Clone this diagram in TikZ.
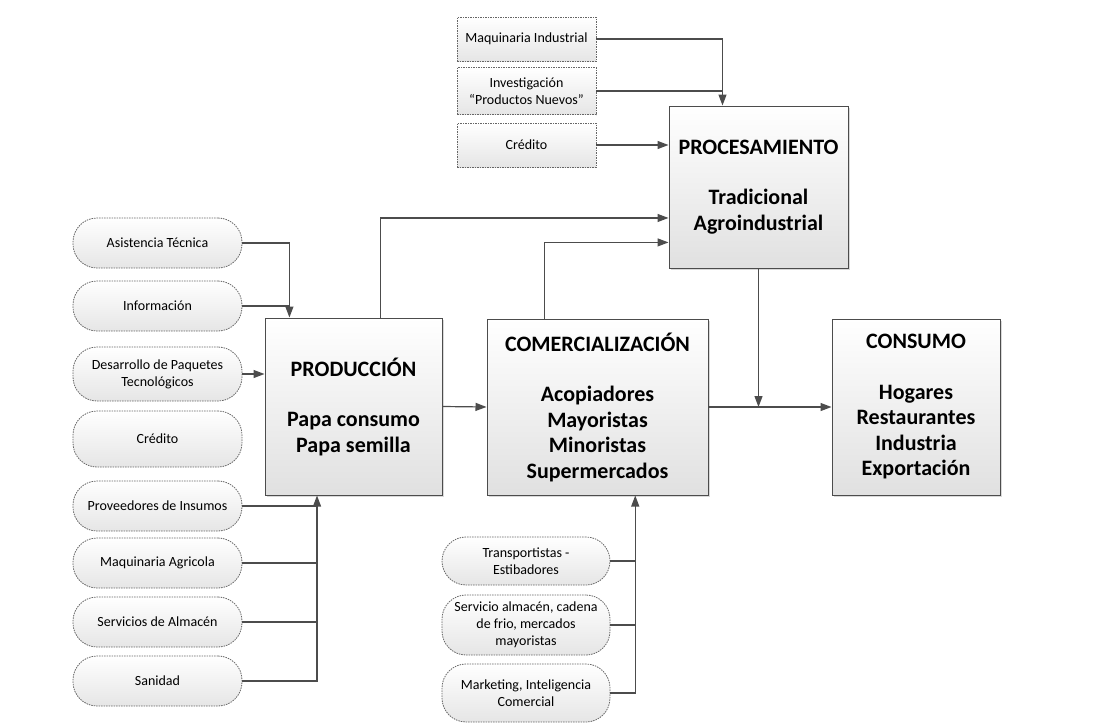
\documentclass[tikz,border=0pt]{standalone}
\usepackage{fontspec}
\setmainfont{Carlito}
\usetikzlibrary{arrows.meta,calc,shadows}

\begin{document}
\begin{tikzpicture}[
        x=1pt, y=-1pt,
        etapa/.style={rectangle,draw=black!70,line width=1pt,top color=white,bottom color=black!12,
            drop shadow={opacity=0.3,shadow xshift=2pt,shadow yshift=-2pt},
            align=center,inner sep=2pt,font=\bfseries\fontsize{22}{25.5}\selectfont},
        apoyo/.style={rectangle,draw=black!60,dash pattern=on 1.5pt off 1pt,line width=0.8pt,
            top color=white,bottom color=black!10,align=center,inner sep=1pt,
            font=\fontsize{14}{17}\selectfont,minimum width=139pt,minimum height=44pt},
        ovalo/.style={apoyo,rounded corners=24pt,minimum width=169pt,minimum height=50pt},
        enlace/.style={draw=black!70,line width=1.2pt},
        flecha/.style={enlace,-{Triangle[length=11pt,width=8pt]}}
    ]
    \useasboundingbox (0,0) rectangle (1097,723);

    \node [etapa,minimum width=179pt,minimum height=162pt] (proc) at (758.5,187) {PROCESAMIENTO\\[25pt]Tradicional\\Agroindustrial};
    \node [etapa,minimum width=177pt,minimum height=177pt] (prod) at (353.5,406.5) {PRODUCCIÓN\\[25pt]Papa consumo\\Papa semilla};
    \node [etapa,minimum width=221pt,minimum height=176pt] (comer) at (597.5,407) {COMERCIALIZACIÓN\\[25pt]Acopiadores\\Mayoristas\\Minoristas\\Supermercados};
    \node [etapa,minimum width=168pt,minimum height=176pt] (cons) at (916,407) {CONSUMO\\[25pt]Hogares\\Restaurantes\\Industria\\Exportación};

    \node [apoyo] (maqind) at (526.5,39) {Maquinaria Industrial};
    \node [apoyo,minimum height=47pt] (inves) at (526.5,91) {Investigación\\“Productos Nuevos”};
    \node [apoyo] (credp) at (526.5,145) {Crédito};

    \node [ovalo] (asis) at (157.5,243) {Asistencia Técnica};
    \node [ovalo] (info) at (157.5,306) {Información};
    \node [ovalo,minimum height=54pt] (desa) at (157.5,374) {Desarrollo de Paquetes\\Tecnológicos};
    \node [ovalo,minimum height=56pt] (credl) at (157.5,439) {Crédito};
    \node [ovalo] (prov) at (157.5,506) {Proveedores de Insumos};
    \node [ovalo] (maqag) at (157.5,563) {Maquinaria Agricola};
    \node [ovalo] (serv) at (157.5,622) {Servicios de Almacén};
    \node [ovalo] (sani) at (157.5,681) {Sanidad};

    \node [ovalo,minimum width=168pt,minimum height=48pt] (trans) at (526,561) {Transportistas -\\Estibadores};
    \node [ovalo,minimum width=168pt,minimum height=60pt] (servalm) at (526,625) {Servicio almacén, cadena\\de frio, mercados\\mayoristas};
    \node [ovalo,minimum width=168pt,minimum height=58pt] (mark) at (526,693) {Marketing, Inteligencia\\Comercial};

    \coordinate (jproc) at ($(proc.north west)!0.3!(proc.north east)$);
    \coordinate (jprod) at ($(prod.north west)!0.14!(prod.north east)$);
    \coordinate (jprodb) at ($(prod.south west)!0.295!(prod.south east)$);
    \coordinate (jcomb) at ($(comer.south west)!0.67!(comer.south east)$);
    \coordinate (sprod) at ($(prod.north west)!0.65!(prod.north east)$);
    \coordinate (scomer) at ($(comer.north west)!0.26!(comer.north east)$);
    \coordinate (eproc1) at ($(proc.north west)!0.69!(proc.south west)$);
    \coordinate (eproc2) at ($(proc.north west)!0.84!(proc.south west)$);

    \draw [flecha] (maqind.east) -| (jproc);
    \draw [enlace] (inves.east) -- (inves.east -| jproc);
    \draw [flecha] (credp.east) -- (credp.east -| proc.west);
    \draw [flecha] (sprod) |- (eproc1);
    \draw [flecha] (scomer) |- (eproc2);

    \draw [flecha] (asis.east) -| (jprod);
    \draw [enlace] (info.east) -- (info.east -| jprod);
    \draw [flecha] (desa.east) -- (desa.east -| prod.west);
    \draw [flecha] (sani.east) -| (jprodb);
    \foreach \n in {prov,maqag,serv}
        \draw [enlace] (\n.east) -- (\n.east -| jprodb);

    \draw [flecha] (mark.east) -| (jcomb);
    \foreach \n in {trans,servalm}
        \draw [enlace] (\n.east) -- (\n.east -| jcomb);

    \draw [flecha] (prod.east) -- (comer.west);
    \draw [flecha] (comer.east) -- (cons.west);
    \draw [flecha] (proc.south) -- (proc.south |- comer.east);
\end{tikzpicture}
\end{document}
